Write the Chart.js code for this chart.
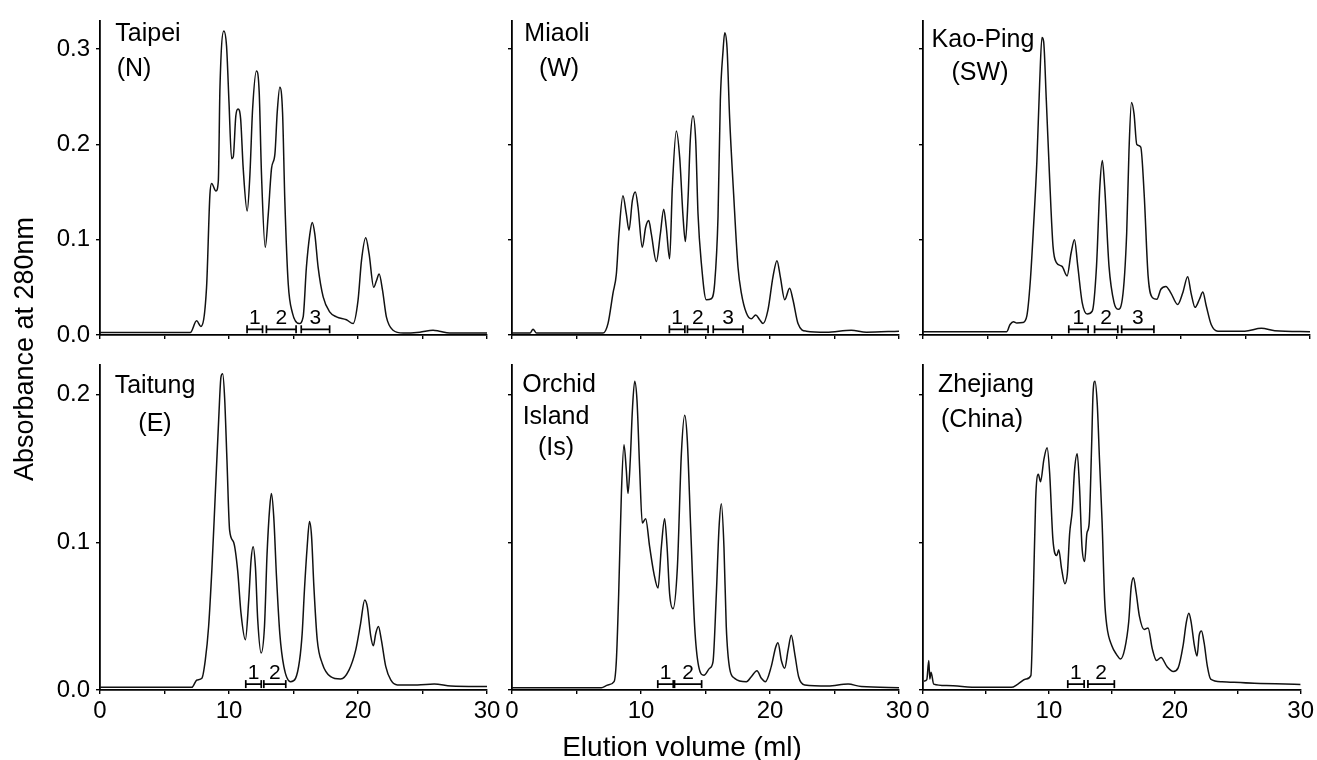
<!DOCTYPE html>
<html>
<head>
<meta charset="utf-8">
<script src="https://cdn.jsdelivr.net/npm/chart.js@4.4.1/dist/chart.umd.min.js"></script>
<style>
  html, body { margin: 0; padding: 0; background: #fff; }
  #wrap { position: relative; width: 1317px; height: 760px; }
  #wrap canvas { position: absolute; left: 0; top: 0; }
</style>
</head>
<body>
<div id="wrap">
  <canvas id="c0" width="1317" height="760"></canvas>
  <canvas id="c1" width="1317" height="760"></canvas>
  <canvas id="c2" width="1317" height="760"></canvas>
  <canvas id="c3" width="1317" height="760"></canvas>
  <canvas id="c4" width="1317" height="760"></canvas>
  <canvas id="c5" width="1317" height="760"></canvas>
</div>
<script>
// ---- data ----
const xTicks = [0, 5, 10, 15, 20, 25, 30];
const xTickLabels = ['0', '', '10', '', '20', '', '30'];
const yTicksTop = [0, 0.1, 0.2, 0.3];
const yTickLabelsTop = ['0.0', '0.1', '0.2', '0.3'];
const yTicksBottom = [0, 0.1, 0.2];
const yTickLabelsBottom = ['0.0', '0.1', '0.2'];

const panelNames = [
  ['Taipei', '(N)'],
  ['Miaoli', '(W)'],
  ['Kao-Ping', '(SW)'],
  ['Taitung', '(E)'],
  ['Orchid', 'Island', '(Is)'],
  ['Zhejiang', '(China)']
];

const taipeiMl = [0, 7.0, 7.49, 7.82, 8.26, 8.52, 8.65, 8.99, 9.17, 9.3, 9.6, 9.81, 10.0, 10.2, 10.33, 10.53, 10.7, 10.9, 11.1, 11.41, 11.62, 11.83, 12.13, 12.34, 12.52, 12.81, 13.04, 13.3, 13.56, 13.74, 13.94, 14.15, 14.33, 14.59, 14.92, 15.44, 15.75, 16.0, 16.27, 16.45, 16.65, 16.91, 17.3, 17.82, 18.33, 19.1, 19.62, 20.0, 20.27, 20.6, 20.86, 21.22, 21.43, 21.64, 21.9, 22.2, 22.72, 23.5, 24.79, 25.82, 26.3, 27.1, 30];
const taipeiAbs = [0.0025, 0.0025, 0.015, 0.009, 0.05, 0.147, 0.159, 0.151, 0.161, 0.26, 0.319, 0.303, 0.244, 0.185, 0.187, 0.23, 0.237, 0.227, 0.175, 0.13, 0.168, 0.237, 0.277, 0.255, 0.168, 0.092, 0.126, 0.175, 0.19, 0.234, 0.26, 0.234, 0.14, 0.054, 0.023, 0.012, 0.019, 0.071, 0.106, 0.118, 0.106, 0.071, 0.04, 0.024, 0.019, 0.016, 0.012, 0.036, 0.078, 0.102, 0.085, 0.05, 0.057, 0.064, 0.047, 0.019, 0.005, 0.002, 0.003, 0.005, 0.004, 0.002, 0.002];

const miaoliMl = [0, 1.4, 1.63, 1.9, 7.05, 7.44, 7.83, 8.09, 8.29, 8.6, 8.86, 9.07, 9.33, 9.56, 9.77, 10.1, 10.36, 10.6, 10.8, 11.19, 11.5, 11.76, 11.96, 12.22, 12.43, 12.74, 13.0, 13.26, 13.44, 13.64, 13.82, 14.03, 14.24, 14.42, 14.68, 15.06, 15.45, 15.71, 15.97, 16.15, 16.36, 16.49, 16.67, 16.87, 17.18, 17.52, 17.78, 18.17, 18.55, 18.89, 19.2, 19.46, 19.84, 20.23, 20.54, 20.8, 21.14, 21.52, 21.78, 22.17, 22.82, 24.37, 26.3, 27.47, 30];
const miaoliAbs = [0.002, 0.002, 0.006, 0.002, 0.002, 0.012, 0.044, 0.064, 0.106, 0.146, 0.127, 0.11, 0.141, 0.15, 0.134, 0.092, 0.113, 0.12, 0.106, 0.077, 0.106, 0.132, 0.113, 0.08, 0.155, 0.214, 0.186, 0.124, 0.098, 0.141, 0.204, 0.23, 0.204, 0.127, 0.075, 0.037, 0.038, 0.054, 0.124, 0.246, 0.298, 0.317, 0.301, 0.228, 0.148, 0.071, 0.044, 0.023, 0.017, 0.021, 0.016, 0.012, 0.026, 0.061, 0.078, 0.061, 0.037, 0.049, 0.037, 0.012, 0.004, 0.003, 0.005, 0.003, 0.004];

const kaopingMl = [0, 6.49, 6.75, 7.01, 7.27, 7.74, 8.05, 8.31, 8.57, 8.83, 9.04, 9.22, 9.35, 9.56, 9.82, 10.08, 10.34, 10.78, 11.17, 11.48, 11.74, 12.0, 12.34, 12.73, 13.12, 13.45, 13.71, 13.9, 14.08, 14.42, 14.81, 15.12, 15.45, 15.79, 15.97, 16.16, 16.36, 16.57, 16.88, 17.14, 17.45, 17.79, 18.13, 18.44, 18.83, 19.22, 19.74, 20.13, 20.52, 20.78, 21.09, 21.43, 21.69, 21.95, 22.34, 22.86, 24.94, 26.23, 27.27, 30];
const kaopingAbs = [0.0035, 0.0035, 0.011, 0.014, 0.0125, 0.013, 0.02, 0.055, 0.114, 0.183, 0.263, 0.312, 0.308, 0.246, 0.163, 0.093, 0.076, 0.072, 0.062, 0.086, 0.1, 0.072, 0.034, 0.022, 0.025, 0.072, 0.156, 0.183, 0.156, 0.072, 0.034, 0.027, 0.0375, 0.107, 0.194, 0.244, 0.232, 0.2, 0.197, 0.149, 0.062, 0.039, 0.0375, 0.048, 0.051, 0.044, 0.032, 0.044, 0.061, 0.044, 0.029, 0.0375, 0.045, 0.031, 0.011, 0.004, 0.004, 0.007, 0.0045, 0.0035];

const taitungMl = [0, 7.12, 7.51, 7.9, 8.16, 8.42, 8.68, 8.94, 9.2, 9.38, 9.51, 9.66, 9.84, 10.05, 10.36, 10.67, 10.93, 11.27, 11.53, 11.71, 11.87, 12.05, 12.23, 12.49, 12.75, 12.95, 13.16, 13.29, 13.47, 13.68, 13.94, 14.25, 14.77, 15.16, 15.47, 15.67, 15.85, 16.06, 16.24, 16.4, 16.58, 16.84, 17.23, 17.88, 18.65, 19.3, 19.82, 20.2, 20.52, 20.73, 20.98, 21.19, 21.37, 21.58, 21.81, 22.15, 22.54, 23.06, 24.61, 25.91, 27.2, 30];
const taitungAbs = [0.0018, 0.0018, 0.0068, 0.008, 0.02, 0.043, 0.083, 0.133, 0.183, 0.212, 0.214, 0.198, 0.156, 0.108, 0.1, 0.081, 0.052, 0.034, 0.061, 0.088, 0.097, 0.083, 0.047, 0.025, 0.043, 0.092, 0.124, 0.133, 0.117, 0.077, 0.038, 0.016, 0.0056, 0.0079, 0.02, 0.038, 0.068, 0.097, 0.114, 0.104, 0.07, 0.034, 0.018, 0.009, 0.0074, 0.0135, 0.027, 0.045, 0.061, 0.056, 0.037, 0.03, 0.038, 0.043, 0.034, 0.016, 0.0068, 0.0034, 0.0034, 0.004, 0.0027, 0.0023];

const orchidMl = [0, 6.93, 7.44, 7.91, 8.09, 8.27, 8.48, 8.68, 8.86, 8.99, 9.17, 9.33, 9.51, 9.69, 9.9, 10.1, 10.36, 10.67, 11.0, 11.32, 11.58, 11.83, 12.02, 12.22, 12.48, 12.82, 13.13, 13.39, 13.59, 13.85, 14.16, 14.47, 14.88, 15.32, 15.58, 15.84, 16.05, 16.23, 16.43, 16.61, 16.87, 17.26, 18.17, 18.55, 18.99, 19.33, 19.64, 20.1, 20.44, 20.62, 20.88, 21.14, 21.4, 21.65, 21.91, 22.22, 22.69, 24.5, 26.05, 27.08, 30];
const orchidAbs = [0.0015, 0.0016, 0.0034, 0.0056, 0.02, 0.065, 0.133, 0.166, 0.149, 0.133, 0.156, 0.189, 0.209, 0.196, 0.149, 0.113, 0.116, 0.097, 0.079, 0.069, 0.097, 0.116, 0.097, 0.065, 0.055, 0.083, 0.16, 0.186, 0.169, 0.11, 0.043, 0.016, 0.01, 0.0147, 0.019, 0.065, 0.11, 0.126, 0.097, 0.043, 0.0147, 0.0079, 0.0056, 0.009, 0.013, 0.0079, 0.0056, 0.016, 0.029, 0.032, 0.02, 0.0147, 0.027, 0.037, 0.025, 0.009, 0.0034, 0.0027, 0.004, 0.0023, 0.0016];

const zhejiangMl = [0.08, 0.3, 0.46, 0.54, 0.64, 0.85, 1.88, 4.45, 7.02, 7.54, 8.18, 8.57, 8.77, 8.95, 9.16, 9.34, 9.6, 9.86, 10.06, 10.32, 10.63, 10.78, 11.01, 11.27, 11.47, 11.65, 11.86, 12.04, 12.25, 12.43, 12.63, 12.84, 13.02, 13.2, 13.4, 13.51, 13.66, 13.84, 14.02, 14.23, 14.43, 14.61, 15.0, 15.38, 15.69, 16.03, 16.34, 16.54, 16.72, 16.93, 17.19, 17.57, 17.88, 18.21, 18.55, 18.91, 19.37, 19.89, 20.27, 20.66, 20.92, 21.12, 21.3, 21.56, 21.77, 21.94, 22.12, 22.33, 22.59, 22.85, 23.75, 26.32, 30];
const zhejiangAbs = [0.006, 0.007, 0.02, 0.0074, 0.012, 0.004, 0.003, 0.0018, 0.0018, 0.004, 0.0074, 0.0097, 0.066, 0.129, 0.146, 0.141, 0.156, 0.164, 0.147, 0.102, 0.091, 0.095, 0.082, 0.072, 0.079, 0.106, 0.122, 0.149, 0.16, 0.138, 0.097, 0.087, 0.106, 0.113, 0.167, 0.201, 0.209, 0.194, 0.156, 0.113, 0.061, 0.043, 0.03, 0.024, 0.021, 0.028, 0.046, 0.07, 0.076, 0.066, 0.05, 0.041, 0.042, 0.028, 0.02, 0.022, 0.016, 0.0126, 0.015, 0.03, 0.046, 0.052, 0.046, 0.03, 0.023, 0.037, 0.04, 0.032, 0.016, 0.0074, 0.0056, 0.0045, 0.0038];

// collected fractions (ml ranges), labelled 1, 2, 3
const taipeiFractions = [[11.4, 12.6], [12.9, 15.2], [15.6, 17.8]];
const miaoliFractions = [[12.2, 13.4], [13.6, 15.2], [15.6, 17.9]];
const kaopingFractions = [[11.3, 12.8], [13.3, 15.1], [15.4, 17.9]];
const taitungFractions = [[11.3, 12.5], [12.7, 14.4]];
const orchidFractions = [[11.3, 12.5], [12.6, 14.7]];
const zhejiangFractions = [[11.5, 12.8], [13.1, 15.2]];

const seriesMl = [taipeiMl, miaoliMl, kaopingMl, taitungMl, orchidMl, zhejiangMl];
const seriesAbs = [taipeiAbs, miaoliAbs, kaopingAbs, taitungAbs, orchidAbs, zhejiangAbs];
const seriesFractions = [taipeiFractions, miaoliFractions, kaopingFractions, taitungFractions, orchidFractions, zhejiangFractions];

// ---- layout / styling ----
const FONT = '"Liberation Sans", Arial, Helvetica, sans-serif';
Chart.defaults.font.family = FONT;
Chart.defaults.color = '#000';

const colEdges = [[100, 487], [512, 899], [923, 1310]];
const rowEdges = [[17, 335], [365, 690]];
const yMax = [0.33, 0.22];
const barLevel = [0.006, 0.004];
const Y_AXIS_W = 60;   // room for the tick labels (labels are clipped to the axis box)
const X_AXIS_H = 40;

// where each name line sits, relative to the plot area's top-left corner
const titleSpots = [
  [[48, 21], [34, 56]],
  [[45, 21], [47, 56]],
  [[60, 27], [57, 60]],
  [[55, 28], [55, 66]],
  [[47, 27], [44, 59], [44, 90]],
  [[63, 27], [59, 62]]
];

const panelText = {
  id: 'panelText',
  afterDraw(chart, args, opts) {
    const { ctx, chartArea, scales } = chart;
    ctx.save();
    ctx.fillStyle = '#000';
    ctx.textAlign = 'center';
    ctx.textBaseline = 'alphabetic';
    ctx.font = '25px ' + FONT;
    opts.lines.forEach((line, k) => {
      ctx.fillText(line, chartArea.left + opts.spots[k][0], chartArea.top + opts.spots[k][1]);
    });
    // fraction numbers above the bars
    ctx.font = '21px ' + FONT;
    opts.fractions.forEach((f, k) => {
      const x = scales.x.getPixelForValue((f[0] + f[1]) / 2);
      const y = scales.y.getPixelForValue(opts.level) - 5;
      ctx.fillText(String(k + 1), x, y);
    });
    if (opts.pageLabels) {
      ctx.font = '28px ' + FONT;
      ctx.fillText('Elution volume (ml)', 682, 756);
      ctx.font = '27px ' + FONT;
      ctx.translate(33, 349);
      ctx.rotate(-Math.PI / 2);
      ctx.fillText('Absorbance at 280nm', 0, 0);
    }
    ctx.restore();
  }
};

function makePanel(i) {
  const row = Math.floor(i / 3), col = i % 3;
  const isLeft = col === 0, isBottom = row === 1;
  const [left, right] = colEdges[col];
  const [top, bottom] = rowEdges[row];
  const ml = seriesMl[i], abs = seriesAbs[i], fr = seriesFractions[i];
  const level = barLevel[row];
  const yTicks = isBottom ? yTicksBottom : yTicksTop;
  const yLabels = isBottom ? yTickLabelsBottom : yTickLabelsTop;

  const fracPoints = [];
  fr.forEach(f => {
    fracPoints.push({ x: f[0], y: level }, { x: f[1], y: level }, { x: f[1], y: null });
  });

  new Chart(document.getElementById('c' + i), {
    type: 'line',
    data: {
      datasets: [
        {
          data: ml.map((x, k) => ({ x: x, y: abs[k] })),
          borderColor: '#111',
          borderWidth: 1.5,
          pointRadius: 0,
          cubicInterpolationMode: 'monotone',
          fill: false
        },
        {
          data: fracPoints,
          borderColor: '#000',
          borderWidth: 1.7,
          pointStyle: 'line',
          pointRotation: 90,
          pointRadius: 4,
          pointBorderWidth: 1.7,
          pointBorderColor: '#000',
          spanGaps: false,
          clip: false
        }
      ]
    },
    options: {
      responsive: false,
      animation: false,
      events: [],
      layout: {
        padding: { left: left - Y_AXIS_W, right: 1317 - right, top: top, bottom: 760 - bottom - X_AXIS_H }
      },
      plugins: {
        legend: { display: false },
        tooltip: { enabled: false },
        panelText: { lines: panelNames[i], spots: titleSpots[i], fractions: fr, level: level, pageLabels: i === 0 }
      },
      scales: {
        x: {
          type: 'linear',
          min: 0,
          max: 30,
          afterFit: s => { s.height = X_AXIS_H; },
          afterBuildTicks: s => { s.ticks = xTicks.map(v => ({ value: v })); },
          ticks: {
            autoSkip: false,
            maxRotation: 0,
            padding: 3,
            font: { size: 24 },
            callback: (v, k) => isBottom ? xTickLabels[k] : ''
          },
          grid: { drawOnChartArea: false, tickLength: 4, color: '#000', lineWidth: 1.4 },
          border: { color: '#000', width: 1.8 }
        },
        y: {
          min: 0,
          max: yMax[row],
          afterFit: s => { s.width = Y_AXIS_W; },
          afterBuildTicks: s => { s.ticks = yTicks.map(v => ({ value: v })); },
          ticks: {
            autoSkip: false,
            padding: 6,
            font: { size: 24 },
            callback: (v, k) => isLeft ? yLabels[k] : ''
          },
          grid: { drawOnChartArea: false, tickLength: 4, color: '#000', lineWidth: 1.4 },
          border: { color: '#000', width: 1.8 }
        }
      }
    },
    plugins: [panelText]
  });
}

for (let i = 0; i < 6; i++) makePanel(i);
</script>
</body>
</html>
